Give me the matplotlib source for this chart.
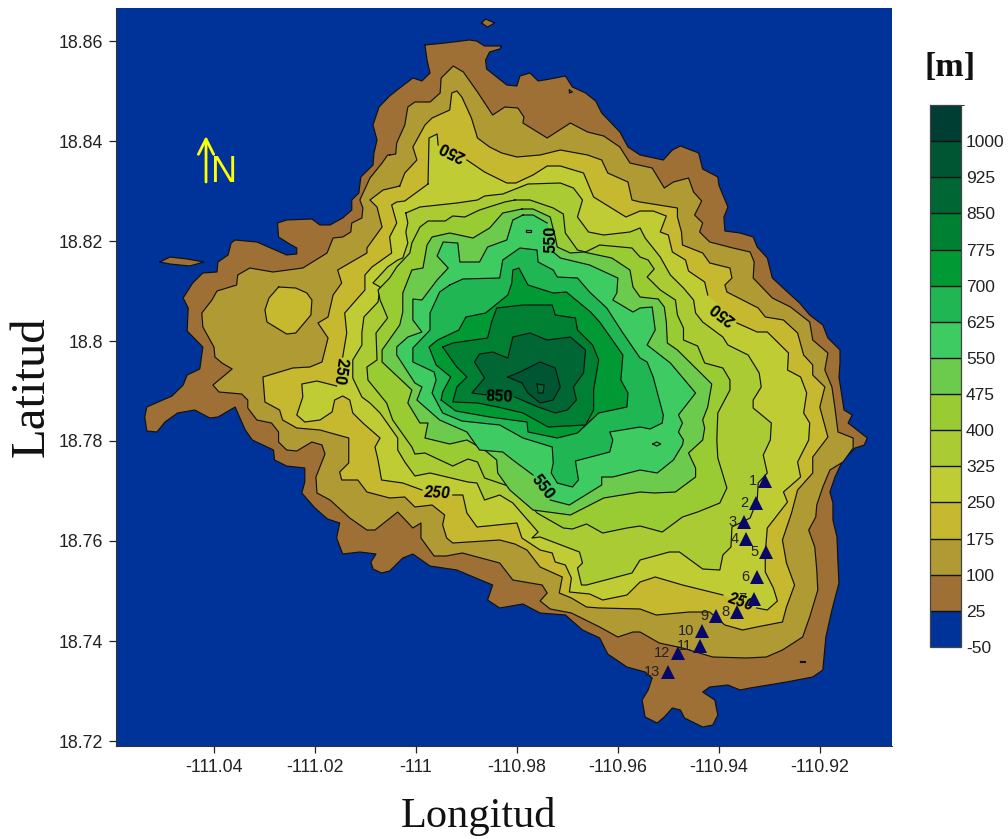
import numpy as np
import matplotlib
matplotlib.use("Agg")
import matplotlib.pyplot as plt
from matplotlib.colors import ListedColormap, BoundaryNorm

# contour lines as (lon, lat), None marks a gap left for a label
contour_25 = [(-110.9982,18.8592),(-110.9942,18.8596),(-110.9894,18.8602),(-110.9880,18.8600),(-110.9864,18.8590),(-110.9830,18.8590),(-110.9834,18.8584),(-110.9854,18.8578),(-110.9862,18.8562),(-110.9860,18.8544),(-110.9840,18.8528),(-110.9820,18.8512),(-110.9800,18.8510),(-110.9794,18.8530),(-110.9774,18.8536),(-110.9758,18.8520),(-110.9734,18.8524),(-110.9704,18.8530),(-110.9690,18.8508),(-110.9664,18.8496),(-110.9644,18.8480),(-110.9632,18.8456),(-110.9596,18.8418),(-110.9580,18.8388),(-110.9556,18.8372),(-110.9510,18.8362),(-110.9492,18.8382),(-110.9476,18.8390),(-110.9440,18.8376),(-110.9432,18.8344),(-110.9402,18.8328),(-110.9400,18.8312),(-110.9382,18.8268),(-110.9390,18.8248),(-110.9388,18.8220),(-110.9358,18.8216),(-110.9332,18.8208),(-110.9324,18.8188),(-110.9304,18.8166),(-110.9294,18.8126),(-110.9264,18.8098),(-110.9240,18.8076),(-110.9220,18.8052),(-110.9194,18.8032),(-110.9184,18.8006),(-110.9160,18.7982),(-110.9160,18.7956),(-110.9162,18.7928),(-110.9156,18.7888),(-110.9152,18.7862),(-110.9136,18.7852),(-110.9144,18.7836),(-110.9106,18.7806),(-110.9112,18.7792),(-110.9130,18.7786),(-110.9154,18.7762),(-110.9170,18.7728),(-110.9180,18.7698),(-110.9174,18.7676),(-110.9174,18.7642),(-110.9166,18.7608),(-110.9164,18.7556),(-110.9162,18.7516),(-110.9176,18.7462),(-110.9188,18.7408),(-110.9194,18.7342),(-110.9214,18.7328),(-110.9266,18.7318),(-110.9338,18.7306),(-110.9358,18.7302),(-110.9382,18.7312),(-110.9418,18.7308),(-110.9432,18.7298),(-110.9408,18.7282),(-110.9402,18.7252),(-110.9412,18.7232),(-110.9432,18.7228),(-110.9468,18.7246),(-110.9476,18.7262),(-110.9492,18.7266),(-110.9508,18.7248),(-110.9522,18.7236),(-110.9546,18.7248),(-110.9552,18.7282),(-110.9540,18.7302),(-110.9532,18.7326),(-110.9546,18.7338),(-110.9582,18.7348),(-110.9620,18.7374),(-110.9636,18.7406),(-110.9670,18.7422),(-110.9704,18.7452),(-110.9754,18.7456),(-110.9788,18.7474),(-110.9834,18.7466),(-110.9858,18.7482),(-110.9848,18.7512),(-110.9919,18.7542),(-110.9972,18.7550),(-111.0006,18.7574),(-111.0026,18.7566),(-111.0052,18.7540),(-111.0068,18.7536),(-111.0085,18.7544),(-111.0089,18.7558),(-111.0079,18.7574),(-111.0111,18.7578),(-111.0145,18.7574),(-111.0157,18.7606),(-111.0151,18.7636),(-111.0175,18.7644),(-111.0200,18.7666),(-111.0226,18.7696),(-111.0220,18.7718),(-111.0220,18.7746),(-111.0256,18.7750),(-111.0280,18.7762),(-111.0282,18.7782),(-111.0324,18.7802),(-111.0338,18.7822),(-111.0358,18.7868),(-111.0392,18.7848),(-111.0408,18.7846),(-111.0438,18.7862),(-111.0472,18.7856),(-111.0497,18.7838),(-111.0513,18.7818),(-111.0533,18.7820),(-111.0537,18.7848),(-111.0533,18.7868),(-111.0483,18.7890),(-111.0461,18.7912),(-111.0453,18.7932),(-111.0428,18.7944),(-111.0422,18.7988),(-111.0453,18.8020),(-111.0451,18.8066),(-111.0461,18.8086),(-111.0442,18.8116),(-111.0422,18.8136),(-111.0394,18.8138),(-111.0392,18.8158),(-111.0372,18.8172),(-111.0366,18.8196),(-111.0358,18.8202),(-111.0315,18.8198),(-111.0283,18.8184),(-111.0256,18.8172),(-111.0236,18.8174),(-111.0236,18.8186),(-111.0250,18.8194),(-111.0272,18.8208),(-111.0274,18.8236),(-111.0256,18.8242),(-111.0206,18.8244),(-111.0190,18.8232),(-111.0170,18.8232),(-111.0145,18.8246),(-111.0127,18.8262),(-111.0127,18.8282),(-111.0113,18.8296),(-111.0109,18.8328),(-111.0085,18.8352),(-111.0083,18.8376),(-111.0077,18.8402),(-111.0085,18.8432),(-111.0073,18.8468),(-111.0052,18.8490),(-111.0032,18.8506),(-111.0006,18.8526),(-110.9988,18.8520),(-110.9972,18.8536),(-110.9978,18.8562)]
islet_west = [(-111.0507,18.8158),(-111.0487,18.8168),(-111.0453,18.8164),(-111.0420,18.8158),(-111.0448,18.8150),(-111.0487,18.8154)]
islet_north = [(-110.9870,18.8636),(-110.9862,18.8644),(-110.9844,18.8636),(-110.9858,18.8628)]
islet_east = [(-110.9240,18.7360),(-110.9229,18.7360),(-110.9229,18.7358),(-110.9240,18.7358)]
speck_north = [(-110.9696,18.8502),(-110.9690,18.8498),(-110.9696,18.8496)]

contour_100 = [(-111.0052,18.8372),(-111.0040,18.8374),(-111.0038,18.8396),(-111.0022,18.8432),(-111.0016,18.8468),(-111.0002,18.8478),(-110.9972,18.8478),(-110.9952,18.8496),(-110.9950,18.8526),(-110.9926,18.8550),(-110.9906,18.8538),(-110.9878,18.8498),(-110.9848,18.8452),(-110.9824,18.8468),(-110.9798,18.8466),(-110.9786,18.8448),(-110.9788,18.8436),(-110.9740,18.8406),(-110.9694,18.8436),(-110.9660,18.8418),(-110.9628,18.8410),(-110.9596,18.8388),(-110.9576,18.8356),(-110.9532,18.8346),(-110.9520,18.8326),(-110.9508,18.8306),(-110.9490,18.8318),(-110.9460,18.8326),(-110.9450,18.8298),(-110.9434,18.8280),(-110.9448,18.8252),(-110.9432,18.8236),(-110.9438,18.8218),(-110.9418,18.8198),(-110.9372,18.8186),(-110.9338,18.8178),(-110.9330,18.8158),(-110.9332,18.8126),(-110.9294,18.8086),(-110.9258,18.8068),(-110.9220,18.8038),(-110.9214,18.8002),(-110.9184,18.7976),(-110.9190,18.7942),(-110.9176,18.7908),(-110.9170,18.7866),(-110.9164,18.7818),(-110.9134,18.7806),(-110.9134,18.7786),(-110.9154,18.7758),(-110.9180,18.7742),(-110.9194,18.7708),(-110.9206,18.7672),(-110.9208,18.7648),(-110.9222,18.7622),(-110.9210,18.7588),(-110.9206,18.7542),(-110.9204,18.7502),(-110.9220,18.7448),(-110.9234,18.7408),(-110.9274,18.7382),(-110.9306,18.7368),(-110.9346,18.7366),(-110.9412,18.7368),(-110.9472,18.7386),(-110.9518,18.7396),(-110.9556,18.7418),(-110.9570,18.7418),(-110.9600,18.7408),(-110.9636,18.7428),(-110.9692,18.7456),(-110.9734,18.7464),(-110.9754,18.7480),(-110.9740,18.7496),(-110.9750,18.7512),(-110.9808,18.7522),(-110.9834,18.7556),(-110.9908,18.7576),(-110.9940,18.7570),(-110.9964,18.7570),(-110.9990,18.7606),(-110.9990,18.7636),(-111.0006,18.7626),(-111.0036,18.7658),(-111.0081,18.7622),(-111.0097,18.7622),(-111.0131,18.7646),(-111.0170,18.7682),(-111.0196,18.7696),(-111.0198,18.7728),(-111.0180,18.7774),(-111.0186,18.7792),(-111.0206,18.7798),(-111.0236,18.7780),(-111.0256,18.7782),(-111.0272,18.7798),(-111.0272,18.7818),(-111.0286,18.7836),(-111.0315,18.7842),(-111.0333,18.7866),(-111.0333,18.7882),(-111.0345,18.7894),(-111.0390,18.7898),(-111.0402,18.7912),(-111.0364,18.7944),(-111.0384,18.7956),(-111.0398,18.7968),(-111.0400,18.7988),(-111.0422,18.8028),(-111.0424,18.8056),(-111.0404,18.8082),(-111.0394,18.8100),(-111.0355,18.8112),(-111.0353,18.8132),(-111.0329,18.8146),(-111.0283,18.8138),(-111.0224,18.8146),(-111.0176,18.8176),(-111.0164,18.8206),(-111.0145,18.8208),(-111.0129,18.8218),(-111.0127,18.8236),(-111.0107,18.8246),(-111.0105,18.8266),(-111.0111,18.8282),(-111.0091,18.8326),(-111.0067,18.8356),(-111.0056,18.8372)]

contour_175 = [(-111.0032,18.8310),(-111.0022,18.8336),(-110.9998,18.8362),(-111.0006,18.8388),(-110.9982,18.8432),(-110.9968,18.8446),(-110.9933,18.8462),(-110.9929,18.8496),(-110.9919,18.8500),(-110.9909,18.8488),(-110.9890,18.8446),(-110.9878,18.8406),(-110.9854,18.8388),(-110.9830,18.8376),(-110.9800,18.8368),(-110.9754,18.8372),(-110.9714,18.8382),(-110.9660,18.8372),(-110.9632,18.8362),(-110.9620,18.8336),(-110.9580,18.8318),(-110.9572,18.8282),(-110.9556,18.8278),(-110.9482,18.8266),(-110.9482,18.8248),(-110.9474,18.8218),(-110.9472,18.8192),(-110.9432,18.8176),(-110.9418,18.8156),(-110.9378,18.8146),(-110.9374,18.8126),(-110.9388,18.8112),(-110.9384,18.8098),(-110.9322,18.8066),(-110.9308,18.8048),(-110.9272,18.8042),(-110.9244,18.8016),(-110.9232,18.7972),(-110.9214,18.7952),(-110.9214,18.7932),(-110.9190,18.7908),(-110.9200,18.7868),(-110.9184,18.7808),(-110.9214,18.7768),(-110.9214,18.7736),(-110.9244,18.7702),(-110.9256,18.7656),(-110.9274,18.7602),(-110.9266,18.7556),(-110.9250,18.7512),(-110.9266,18.7468),(-110.9274,18.7438),(-110.9325,18.7428),(-110.9353,18.7422),(-110.9388,18.7432),(-110.9418,18.7458),(-110.9458,18.7458),(-110.9524,18.7452),(-110.9556,18.7464),(-110.9636,18.7466),(-110.9662,18.7468),(-110.9692,18.7486),(-110.9716,18.7496),(-110.9710,18.7528),(-110.9754,18.7548),(-110.9780,18.7582),(-110.9804,18.7594),(-110.9834,18.7602),(-110.9927,18.7596),(-110.9939,18.7606),(-110.9947,18.7632),(-110.9943,18.7652),(-110.9968,18.7672),(-111.0002,18.7668),(-111.0022,18.7688),(-111.0052,18.7686),(-111.0097,18.7698),(-111.0115,18.7722),(-111.0147,18.7722),(-111.0151,18.7738),(-111.0133,18.7756),(-111.0133,18.7806),(-111.0190,18.7822),(-111.0236,18.7826),(-111.0264,18.7842),(-111.0270,18.7862),(-111.0299,18.7878),(-111.0303,18.7928),(-111.0244,18.7946),(-111.0210,18.7948),(-111.0186,18.7958),(-111.0174,18.8006),(-111.0194,18.8036),(-111.0174,18.8048),(-111.0164,18.8092),(-111.0147,18.8116),(-111.0155,18.8142),(-111.0097,18.8176),(-111.0097,18.8186),(-111.0067,18.8228),(-111.0077,18.8268),(-111.0091,18.8282),(-111.0065,18.8302)]
hill_175 = [(-111.0272,18.8108),(-111.0238,18.8106),(-111.0216,18.8096),(-111.0206,18.8082),(-111.0208,18.8052),(-111.0238,18.8016),(-111.0256,18.8014),(-111.0295,18.8038),(-111.0299,18.8062),(-111.0291,18.8086)]

contour_250 = [(-110.9976,18.8314),(-110.9974,18.8406),(-110.9958,18.8414),(-110.9956,18.8392),None,(-110.9899,18.8362),(-110.9864,18.8338),(-110.9820,18.8316),(-110.9802,18.8316),(-110.9768,18.8332),(-110.9740,18.8350),(-110.9714,18.8350),(-110.9668,18.8336),(-110.9648,18.8288),(-110.9616,18.8268),(-110.9584,18.8248),(-110.9556,18.8260),(-110.9530,18.8260),(-110.9504,18.8250),(-110.9516,18.8218),(-110.9500,18.8212),(-110.9492,18.8178),(-110.9466,18.8162),(-110.9460,18.8140),(-110.9428,18.8118),(-110.9422,18.8092),None,(-110.9364,18.8036),(-110.9324,18.8018),(-110.9304,18.8018),(-110.9262,18.7976),(-110.9264,18.7942),(-110.9238,18.7928),(-110.9226,18.7896),(-110.9232,18.7856),(-110.9220,18.7836),(-110.9222,18.7802),(-110.9244,18.7758),(-110.9238,18.7728),(-110.9272,18.7698),(-110.9264,18.7678),(-110.9304,18.7626),(-110.9308,18.7576),(-110.9308,18.7538),(-110.9292,18.7506),(-110.9284,18.7480),(-110.9304,18.7462),(-110.9325,18.7466),None,(-110.9392,18.7492),(-110.9472,18.7512),(-110.9526,18.7528),(-110.9556,18.7518),(-110.9582,18.7492),(-110.9630,18.7482),(-110.9656,18.7494),(-110.9696,18.7498),(-110.9692,18.7526),(-110.9704,18.7552),(-110.9724,18.7558),(-110.9730,18.7576),(-110.9754,18.7582),(-110.9790,18.7606),(-110.9800,18.7636),(-110.9879,18.7628),(-110.9899,18.7656),(-110.9907,18.7692),(-110.9927,18.7692),None,(-110.9988,18.7702),(-111.0026,18.7716),(-111.0068,18.7722),(-111.0075,18.7762),(-111.0081,18.7788),(-111.0071,18.7806),(-111.0105,18.7836),(-111.0125,18.7856),(-111.0131,18.7882),(-111.0145,18.7890),(-111.0161,18.7882),(-111.0166,18.7858),(-111.0190,18.7842),(-111.0220,18.7838),(-111.0236,18.7852),(-111.0224,18.7888),(-111.0226,18.7914),(-111.0196,18.7920),(-111.0157,18.7910),None,(-111.0145,18.7968),(-111.0137,18.8016),(-111.0141,18.8056),(-111.0101,18.8102),(-111.0101,18.8132),(-111.0087,18.8148),(-111.0048,18.8176),(-111.0052,18.8208),(-111.0038,18.8236),(-111.0048,18.8272),(-111.0038,18.8278),(-111.0022,18.8280)]

contour_325 = [(-111.0020,18.8256),(-110.9992,18.8268),(-110.9919,18.8276),(-110.9878,18.8282),(-110.9864,18.8290),(-110.9828,18.8294),(-110.9778,18.8314),(-110.9714,18.8316),(-110.9688,18.8306),(-110.9670,18.8282),(-110.9680,18.8248),(-110.9658,18.8218),(-110.9628,18.8212),(-110.9576,18.8218),(-110.9556,18.8226),(-110.9546,18.8206),(-110.9516,18.8168),(-110.9496,18.8132),(-110.9470,18.8106),(-110.9450,18.8082),(-110.9446,18.8056),(-110.9432,18.8038),(-110.9392,18.8008),(-110.9382,18.7992),(-110.9342,18.7972),(-110.9320,18.7936),(-110.9316,18.7908),(-110.9332,18.7882),(-110.9332,18.7866),(-110.9296,18.7836),(-110.9298,18.7802),(-110.9312,18.7772),(-110.9304,18.7736),(-110.9322,18.7716),(-110.9324,18.7682),(-110.9338,18.7646),(-110.9374,18.7628),(-110.9376,18.7588),(-110.9392,18.7572),(-110.9398,18.7542),(-110.9432,18.7544),(-110.9478,18.7578),(-110.9498,18.7578),(-110.9556,18.7562),(-110.9572,18.7536),(-110.9662,18.7512),(-110.9672,18.7512),(-110.9680,18.7546),(-110.9670,18.7556),(-110.9676,18.7578),(-110.9754,18.7608),(-110.9770,18.7606),(-110.9758,18.7618),(-110.9808,18.7676),(-110.9834,18.7692),(-110.9864,18.7682),(-110.9879,18.7716),(-110.9897,18.7718),(-110.9972,18.7736),(-111.0002,18.7730),(-111.0022,18.7758),(-111.0036,18.7782),(-111.0036,18.7806),(-111.0071,18.7856),(-111.0091,18.7876),(-111.0107,18.7888),(-111.0125,18.7926),(-111.0125,18.7962),(-111.0107,18.7992),(-111.0107,18.8016),(-111.0103,18.8048),(-111.0075,18.8078),(-111.0071,18.8108),(-111.0085,18.8116),(-111.0056,18.8148),(-111.0036,18.8162),(-111.0026,18.8166),(-111.0016,18.8196),(-111.0020,18.8218),(-111.0016,18.8236)]

contour_400 = [(-110.9804,18.8282),(-110.9774,18.8282),(-110.9728,18.8266),(-110.9708,18.8254),(-110.9704,18.8216),(-110.9680,18.8182),(-110.9664,18.8178),(-110.9636,18.8192),(-110.9572,18.8186),(-110.9556,18.8168),(-110.9540,18.8162),(-110.9528,18.8144),(-110.9542,18.8128),(-110.9516,18.8102),(-110.9486,18.8082),(-110.9482,18.8052),(-110.9470,18.8026),(-110.9470,18.8002),(-110.9442,18.7990),(-110.9428,18.7956),(-110.9392,18.7946),(-110.9378,18.7922),(-110.9378,18.7902),(-110.9402,18.7856),(-110.9404,18.7802),(-110.9402,18.7766),(-110.9384,18.7706),(-110.9398,18.7676),(-110.9442,18.7658),(-110.9472,18.7648),(-110.9512,18.7618),(-110.9556,18.7630),(-110.9582,18.7626),(-110.9630,18.7616),(-110.9662,18.7634),(-110.9690,18.7624),(-110.9708,18.7626),(-110.9760,18.7656),(-110.9800,18.7704),(-110.9864,18.7726),(-110.9878,18.7758),(-110.9897,18.7764),(-110.9927,18.7750),(-110.9982,18.7776),(-111.0002,18.7774),(-111.0008,18.7788),(-111.0046,18.7842),(-111.0058,18.7876),(-111.0095,18.7922),(-111.0097,18.7948),(-111.0077,18.7962),(-111.0079,18.8016),(-111.0056,18.8046),(-111.0071,18.8082),(-111.0075,18.8102),(-111.0052,18.8126),(-111.0038,18.8148),(-111.0012,18.8176),(-111.0008,18.8196),(-110.9992,18.8228),(-110.9976,18.8240),(-110.9942,18.8240),(-110.9927,18.8250),(-110.9903,18.8248),(-110.9874,18.8262),(-110.9824,18.8278)]

contour_475 = [(-110.9790,18.8264),(-110.9768,18.8264),(-110.9734,18.8248),(-110.9724,18.8208),(-110.9720,18.8188),(-110.9694,18.8176),(-110.9668,18.8178),(-110.9612,18.8166),(-110.9576,18.8142),(-110.9570,18.8108),(-110.9556,18.8088),(-110.9520,18.8084),(-110.9508,18.8068),(-110.9504,18.8038),(-110.9502,18.7996),(-110.9482,18.7982),(-110.9456,18.7956),(-110.9414,18.7914),(-110.9422,18.7868),(-110.9432,18.7842),(-110.9428,18.7826),(-110.9432,18.7802),(-110.9460,18.7776),(-110.9446,18.7746),(-110.9446,18.7728),(-110.9486,18.7698),(-110.9528,18.7696),(-110.9556,18.7698),(-110.9628,18.7686),(-110.9694,18.7652),(-110.9768,18.7662),(-110.9814,18.7702),(-110.9838,18.7736),(-110.9840,18.7762),(-110.9864,18.7782),(-110.9899,18.7802),(-110.9933,18.7794),(-110.9982,18.7806),(-110.9976,18.7836),(-110.9992,18.7836),(-111.0016,18.7876),(-111.0008,18.7902),(-111.0067,18.7958),(-111.0067,18.7982),(-111.0032,18.8032),(-111.0026,18.8058),(-111.0026,18.8096),(-111.0008,18.8142),(-110.9986,18.8146),(-110.9978,18.8192),(-110.9968,18.8208),(-110.9933,18.8216),(-110.9887,18.8206),(-110.9854,18.8226),(-110.9828,18.8256)]

contour_550 = [(-110.9788,18.8252),(-110.9768,18.8252),(-110.9740,18.8236),None,(-110.9728,18.8178),(-110.9714,18.8166),(-110.9656,18.8152),(-110.9600,18.8126),(-110.9602,18.8096),(-110.9610,18.8082),(-110.9570,18.8058),(-110.9556,18.8066),(-110.9532,18.8068),(-110.9526,18.8022),(-110.9542,18.7992),(-110.9496,18.7956),(-110.9446,18.7896),(-110.9480,18.7852),(-110.9472,18.7836),(-110.9480,18.7818),(-110.9470,18.7802),(-110.9472,18.7792),(-110.9490,18.7762),(-110.9522,18.7736),(-110.9556,18.7742),(-110.9610,18.7728),(-110.9632,18.7728),(-110.9632,18.7712),(-110.9696,18.7672),(-110.9734,18.7682),None,(-110.9768,18.7732),(-110.9808,18.7762),(-110.9828,18.7778),(-110.9874,18.7782),(-110.9899,18.7818),(-110.9953,18.7842),(-110.9998,18.7882),(-110.9988,18.7908),(-111.0002,18.7916),(-111.0038,18.7972),(-111.0038,18.7988),(-111.0016,18.8008),(-110.9988,18.8018),(-111.0006,18.8042),(-111.0006,18.8084),(-110.9988,18.8082),(-110.9958,18.8122),(-110.9936,18.8146),(-110.9958,18.8170),(-110.9946,18.8198),(-110.9917,18.8196),(-110.9913,18.8158),(-110.9874,18.8158),(-110.9858,18.8188),(-110.9820,18.8202),(-110.9808,18.8242)]
speck_550 = [(-110.9782,18.8222),(-110.9772,18.8222),(-110.9772,18.8218),(-110.9782,18.8218)]
diamond_550 = [(-110.9531,18.7794),(-110.9523,18.7798),(-110.9515,18.7794),(-110.9523,18.7790)]

contour_625 = [(-110.9933,18.8112),(-110.9907,18.8124),(-110.9834,18.8126),(-110.9828,18.8162),(-110.9794,18.8186),(-110.9760,18.8182),(-110.9758,18.8158),(-110.9728,18.8142),(-110.9720,18.8128),(-110.9680,18.8126),(-110.9656,18.8098),(-110.9622,18.8066),(-110.9590,18.8016),(-110.9556,18.7966),(-110.9542,18.7958),(-110.9530,18.7928),(-110.9510,18.7852),(-110.9512,18.7836),(-110.9536,18.7824),(-110.9556,18.7828),(-110.9616,18.7818),(-110.9610,18.7802),(-110.9616,18.7778),(-110.9684,18.7760),(-110.9678,18.7722),(-110.9690,18.7708),(-110.9720,18.7716),(-110.9732,18.7736),(-110.9728,18.7756),(-110.9730,18.7788),(-110.9788,18.7806),(-110.9834,18.7832),(-110.9909,18.7840),(-110.9947,18.7856),(-110.9968,18.7896),(-110.9960,18.7922),(-110.9964,18.7938),(-111.0006,18.7958),(-111.0006,18.7986),(-110.9972,18.8022),(-110.9972,18.8056),(-110.9953,18.8098)]

contour_700 = [(-110.9950,18.7882),(-110.9921,18.7860),(-110.9854,18.7848),(-110.9780,18.7838),(-110.9778,18.7818),(-110.9720,18.7806),(-110.9680,18.7816),(-110.9638,18.7856),(-110.9582,18.7868),(-110.9580,18.7896),(-110.9594,18.7922),(-110.9590,18.7972),(-110.9636,18.8038),(-110.9654,18.8058),(-110.9702,18.8098),(-110.9728,18.8096),(-110.9778,18.8112),(-110.9796,18.8146),(-110.9808,18.8142),(-110.9810,18.8116),(-110.9818,18.8092),(-110.9862,18.8056),(-110.9901,18.8048),(-110.9915,18.8022),(-110.9957,18.8002),(-110.9974,18.7988),(-110.9960,18.7952),(-110.9931,18.7928),(-110.9947,18.7898)]

contour_775 = [(-110.9947,18.7988),(-110.9919,18.7948),(-110.9899,18.7928),(-110.9919,18.7908),(-110.9927,18.7878),(-110.9878,18.7876),(-110.9838,18.7868),(-110.9788,18.7856),(-110.9738,18.7828),(-110.9664,18.7832),(-110.9648,18.7862),(-110.9648,18.7902),(-110.9638,18.7962),(-110.9650,18.7992),(-110.9680,18.8022),(-110.9684,18.8046),(-110.9724,18.8052),(-110.9730,18.8072),(-110.9788,18.8072),(-110.9840,18.8066),(-110.9850,18.8038),(-110.9858,18.8006),(-110.9927,18.7996)]

contour_850 = [(-110.9860,18.7892),(-110.9889,18.7896),(-110.9864,18.7926),(-110.9884,18.7958),(-110.9874,18.7974),(-110.9848,18.7978),(-110.9818,18.7966),(-110.9808,18.8008),(-110.9774,18.8016),(-110.9740,18.8002),(-110.9694,18.8008),(-110.9664,18.7982),(-110.9668,18.7936),(-110.9688,18.7908),(-110.9682,18.7882),(-110.9700,18.7862),(-110.9724,18.7856),(-110.9758,18.7868),(-110.9804,18.7888),None]

contour_925 = [(-110.9818,18.7928),(-110.9794,18.7938),(-110.9754,18.7958),(-110.9724,18.7946),(-110.9714,18.7908),(-110.9728,18.7882),(-110.9754,18.7876),(-110.9778,18.7896),(-110.9790,18.7916)]
summit = [(-110.9760,18.7914),(-110.9746,18.7912),(-110.9748,18.7896),(-110.9758,18.7896)]

levels = [-50, 25, 100, 175, 250, 325, 400, 475, 550, 625, 700, 775, 850, 925, 1000, 1075]
level_colors = ["#003399", "#9F7035", "#B09A33", "#C6B82F", "#BFCC33", "#AACB33", "#99CC33", "#6CCB4C",
                "#3ECC62", "#1FB653", "#009933", "#008033", "#006633", "#005533", "#003D33"]
bar_ticks = [-50, 25, 100, 175, 250, 325, 400, 475, 550, 625, 700, 775, 850, 925, 1000]

station_lon = [-110.9309, -110.9327, -110.9350, -110.9346, -110.9307, -110.9325, -110.9331, -110.9364, -110.9406, -110.9434, -110.9438, -110.9481, -110.9501]
station_lat = [18.7720, 18.7676, 18.7638, 18.7604, 18.7578, 18.7528, 18.7484, 18.7458, 18.7450, 18.7420, 18.7390, 18.7376, 18.7338]

x_ticks = [-111.04, -111.02, -111.0, -110.98, -110.96, -110.94, -110.92]
x_labels = ["-111.04", "-111.02", "-111", "-110.98", "-110.96", "-110.94", "-110.92"]
y_ticks = [18.72, 18.74, 18.76, 18.78, 18.8, 18.82, 18.84, 18.86]
y_labels = ["18.72", "18.74", "18.76", "18.78", "18.8", "18.82", "18.84", "18.86"]

# (text, lon, lat, angle, italic)
line_labels = [("250", -110.9927, 18.8380, 153, False), ("250", -110.9392, 18.8056, 142, False),
               ("550", -110.9734, 18.8204, 90, False), ("250", -111.0151, 18.7940, -98, False),
               ("850", -110.9836, 18.7888, -2, False), ("550", -110.9750, 18.7708, -52, False),
               ("250", -110.9958, 18.7696, -3, True), ("250", -110.9356, 18.7478, -20, True)]

plt.rcParams["font.family"] = ["Liberation Sans", "DejaVu Sans"]


def draw_level(ax, pts, color):
    xy = [p for p in pts if p is not None]
    ax.fill([p[0] for p in xy], [p[1] for p in xy], color=color, lw=0, zorder=2)
    # close the ring, a None becomes a break in the line
    ring = list(pts) + [pts[0]]
    x = [np.nan if p is None else p[0] for p in ring]
    y = [np.nan if p is None else p[1] for p in ring]
    ax.plot(x, y, color="#111111", lw=0.85, zorder=2)


fig = plt.figure(figsize=(10.08, 8.39), dpi=100)
ax = fig.add_axes([116 / 1008, 1 - 746 / 839, 776 / 1008, 738 / 839])
ax.set_facecolor(level_colors[0])

for pts in [contour_25, islet_west, islet_north, islet_east, speck_north]:
    draw_level(ax, pts, level_colors[1])
draw_level(ax, contour_100, level_colors[2])
draw_level(ax, contour_175, level_colors[3])
draw_level(ax, hill_175, level_colors[3])
draw_level(ax, contour_250, level_colors[4])
draw_level(ax, contour_325, level_colors[5])
draw_level(ax, contour_400, level_colors[6])
draw_level(ax, contour_475, level_colors[7])
draw_level(ax, contour_550, level_colors[8])
draw_level(ax, speck_550, level_colors[8])
draw_level(ax, diamond_550, level_colors[8])
draw_level(ax, contour_625, level_colors[9])
draw_level(ax, contour_700, level_colors[10])
draw_level(ax, contour_775, level_colors[11])
draw_level(ax, contour_850, level_colors[12])
draw_level(ax, contour_925, level_colors[13])
draw_level(ax, summit, level_colors[12])

for txt, lon, lat, ang, slanted in line_labels:
    ax.text(lon, lat, txt, rotation=ang, ha="center", va="center", rotation_mode="anchor",
            family=["Roboto", "DejaVu Sans"], weight="bold", style="italic" if slanted else "normal",
            fontsize=11.5, color="black", zorder=3)

ax.plot(station_lon, station_lat, ls="none", marker="^", ms=10.5, color="#08086B", mew=0, zorder=4)
for i in range(len(station_lon)):
    ax.annotate(str(i + 1), (station_lon[i], station_lat[i]), xytext=(-5.5, 0), textcoords="offset points",
                ha="right", va="center", fontsize=10.5, color="#222222", zorder=4)

# north arrow and letter
ax.annotate("", xy=(0.1160, 0.8266), xytext=(0.1160, 0.7642), xycoords="axes fraction", textcoords="axes fraction",
            arrowprops=dict(arrowstyle="->,head_length=1.1,head_width=0.55", color="#FFFF00", lw=2, shrinkA=0, shrinkB=0), zorder=5)
ax.text(0.1398, 0.7642, "N", transform=ax.transAxes, color="#FFFF00", fontsize=26, ha="center", va="baseline", zorder=5)

ax.set_xlim(-111.0594, -110.9057)
ax.set_ylim(18.7190, 18.8666)
ax.set_xticks(x_ticks)
ax.set_xticklabels(x_labels)
ax.set_yticks(y_ticks)
ax.set_yticklabels(y_labels)
ax.tick_params(length=5, width=0.9, labelsize=12.8, pad=4.5, colors="#222222")
for side in ["top", "right"]:
    ax.spines[side].set_visible(False)
for side in ["left", "bottom"]:
    ax.spines[side].set_linewidth(0.8)
    ax.spines[side].set_color("#333333")
fig.text(478 / 1008, 1 - 816 / 839, "Longitud", family=["Liberation Serif"], fontsize=30.5, ha="center", va="center", color="#111111")
fig.text(32 / 1008, 1 - 387 / 839, "Latitud", family=["Liberation Serif"], fontsize=35, rotation=90, ha="center", va="center", color="#111111")

cax = fig.add_axes([930 / 1008, 1 - 647 / 839, 31 / 1008, 542 / 839])
cmap = ListedColormap(level_colors)
norm = BoundaryNorm(levels, cmap.N)
sm = plt.cm.ScalarMappable(norm=norm, cmap=cmap)
cb = fig.colorbar(sm, cax=cax, boundaries=levels, ticks=bar_ticks, spacing="uniform", drawedges=True)
cb.dividers.set_color("#111111")
cb.dividers.set_linewidth(1.0)
cb.outline.set_edgecolor("#444444")
cb.outline.set_linewidth(0.9)
cax.tick_params(length=0, labelsize=12.5, pad=3.5, colors="#222222")
cax.set_yticklabels([str(v) for v in bar_ticks])
fig.text(950 / 1008, 1 - 67 / 839, "[m]", family=["Liberation Serif"], weight="bold", fontsize=24.5, ha="center", va="center", color="#111111")

fig.savefig("out.png", dpi=100)
